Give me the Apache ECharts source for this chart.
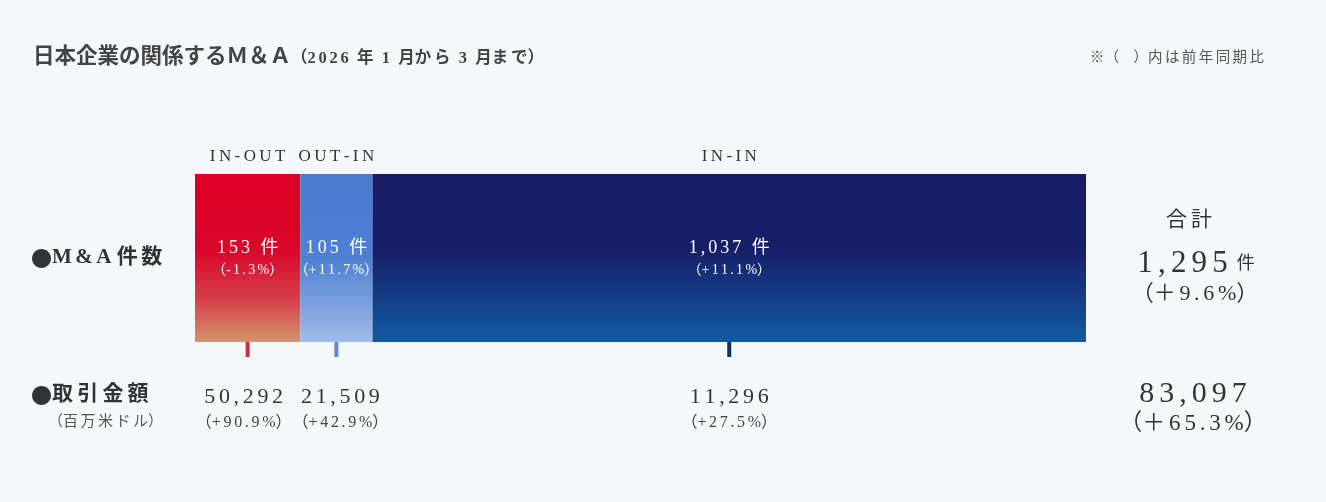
<!DOCTYPE html>
<html><head><meta charset="utf-8">
<script src="https://cdn.jsdelivr.net/npm/echarts@6/dist/echarts.min.js"></script>
<style>html,body{margin:0;padding:0;background:#f4f8fb;}#c{width:1326px;height:502px;}</style>
</head><body><div id="c"></div>
<script>
const categories = ['IN-OUT', 'OUT-IN', 'IN-IN'];
const counts = [153, 105, 1037];
const countChange = ['-1.3%', '+11.7%', '+11.1%'];
const amounts = [50292, 21509, 11296];
const amountChange = ['+90.9%', '+42.9%', '+27.5%'];
const totalCount = 1295;
const totalCountChange = '＋9.6%';
const totalAmount = 83097;
const totalAmountChange = '＋65.3%';

const FONT = '"Liberation Serif", "Noto Sans CJK JP", serif';
const CJK = '"Noto Sans CJK JP", sans-serif';
const fmt = n => n.toLocaleString('en-US');
const sp = (s, ch) => Array.from(s).join(ch || '\u2006');
const gradients = [
  [[0,'#dc0025'],[0.45,'#da0529'],[0.75,'#d5414a'],[1,'#d4946f']],
  [[0,'#4a7bd0'],[0.5,'#4f80d2'],[1,'#a1bbea']],
  [[0,'#181c68'],[0.45,'#181f69'],[1,'#115ba3']]
];
const tickColors = ['#c8313b', '#5e89d4', '#0f2d66'];
const amountShift = [-4, 4, 0];
const total = counts.reduce((a,b)=>a+b,0);

const series = categories.map((c, i) => ({
  name: c, type: 'bar', stack: 's', barWidth: 168, silent: true,
  data: [counts[i]],
  itemStyle: { color: new echarts.graphic.LinearGradient(0,0,0,1, gradients[i].map(s=>({offset:s[0],color:s[1]}))) },
  label: {
    show: true, position: 'inside', fontFamily: FONT, color: '#fff',
    formatter: () => '{a|' + sp(fmt(counts[i]) + ' 件') + '}\n{b|（' + sp(countChange[i]) + '）}',
    rich: { a: { fontSize: 18, fontFamily: FONT, color: '#fff', lineHeight: 24 },
            b: { fontSize: 14, fontFamily: FONT, color: '#fff', lineHeight: 20 } }
  }
}));

let acc = 0;
const segData = counts.map((v, i) => { const d = [acc, acc + v, 0, i]; acc += v; return d; });

series.push({
  type: 'custom', silent: true, clip: false, z: 5,
  encode: { x: [0, 1], y: 2 },
  data: segData,
  renderItem: (params, api) => {
    const i = api.value(3);
    const mid = (api.value(0) + api.value(1)) / 2;
    const p = api.coord([mid, 0]);
    const h = api.size([0, 1])[1];
    const top = p[1] - h / 2, bot = p[1] + h / 2;
    const cx = p[0];
    return { type: 'group', children: [
      { type: 'text', style: { x: cx, y: top - 17, text: sp(categories[i], '\u2009'), textAlign: 'center', textVerticalAlign: 'middle', fontSize: 17, fontFamily: FONT, fill: '#333' } },
      { type: 'rect', shape: { x: cx - 2, y: bot, width: 4, height: 15 }, style: { fill: tickColors[i] } },
      { type: 'text', style: { x: cx + amountShift[i], y: bot + 55, text: sp(fmt(amounts[i])), textAlign: 'center', textVerticalAlign: 'middle', fontSize: 22, fontFamily: FONT, fill: '#333' } },
      { type: 'text', style: { x: cx + amountShift[i], y: bot + 81, text: '（' + sp(amountChange[i]) + '）', textAlign: 'center', textVerticalAlign: 'middle', fontSize: 16, fontFamily: FONT, fill: '#444' } }
    ]};
  }
});

const chart = echarts.init(document.getElementById('c'));
chart.setOption({
  backgroundColor: '#f4f8fb',
  animation: false,
  grid: { left: 195, right: 240, top: 174, height: 168 },
  xAxis: { type: 'value', min: 0, max: total, show: false },
  yAxis: { type: 'category', data: ['M&A'], show: false },
  series: series,
  graphic: [
    { type: 'text', x: 33, y: 57, style: { text: '{a|日本企業の関係するＭ＆Ａ}{b|（' + sp('2026') + '\u2002年\u20021\u2002月' + sp('から') + '\u20023\u2002月' + sp('まで') + '）}', fontFamily: FONT, textVerticalAlign: 'middle',
      rich: { a: { fontSize: 21.5, fontWeight: 'bold', fill: '#444', fontFamily: FONT }, b: { fontSize: 16.5, fontWeight: 'bold', fill: '#444', fontFamily: FONT, padding: [3,0,0,0] } } } },
    { type: 'text', x: 1090, y: 58, style: { text: '※（\u3000）' + sp('内は前年同期比'), fontSize: 14.5, fill: '#555', fontFamily: FONT, textVerticalAlign: 'middle' } },
    { type: 'text', x: 31, y: 258, style: { text: '{c|●}{t|' + sp('M&A') + ' ' + sp('件数') + '}', textVerticalAlign: 'middle',
      rich: { c: { fontSize: 21, fill: '#333', fontFamily: CJK }, t: { fontSize: 21, fontWeight: 'bold', fill: '#333', fontFamily: FONT } } } },
    { type: 'text', x: 31, y: 395, style: { text: '{c|●}{t|' + sp('取引金額', '\u2009') + '}', textVerticalAlign: 'middle',
      rich: { c: { fontSize: 21, fill: '#333', fontFamily: CJK }, t: { fontSize: 21, fontWeight: 'bold', fill: '#333', fontFamily: FONT } } } },
    { type: 'text', x: 48, y: 422, style: { text: '（' + sp('百万米ドル') + '）', fontSize: 15, fill: '#555', fontFamily: FONT, textVerticalAlign: 'middle' } },
    { type: 'text', x: 1189, y: 220, style: { text: sp('合計', '\u2009'), fontSize: 21, fill: '#333', fontFamily: FONT, textAlign: 'center', textVerticalAlign: 'middle' } },
    { type: 'text', x: 1196, y: 264, style: { text: '{a|' + sp(fmt(totalCount)) + '}{b|\u2002件}', textAlign: 'center', textVerticalAlign: 'middle', fontFamily: FONT,
      rich: { a: { fontSize: 31, fill: '#333', fontFamily: FONT }, b: { fontSize: 18, fill: '#333', fontFamily: FONT } } } },
    { type: 'text', x: 1195, y: 294, style: { text: '（' + sp(totalCountChange) + '）', fontSize: 22, fill: '#333', fontFamily: FONT, textAlign: 'center', textVerticalAlign: 'middle' } },
    { type: 'text', x: 1193, y: 394, style: { text: sp(fmt(totalAmount)), fontSize: 30, fill: '#333', fontFamily: FONT, textAlign: 'center', textVerticalAlign: 'middle' } },
    { type: 'text', x: 1193, y: 424, style: { text: '（' + sp(totalAmountChange) + '）', fontSize: 23, fill: '#333', fontFamily: FONT, textAlign: 'center', textVerticalAlign: 'middle' } }
  ]
});
</script></body></html>
